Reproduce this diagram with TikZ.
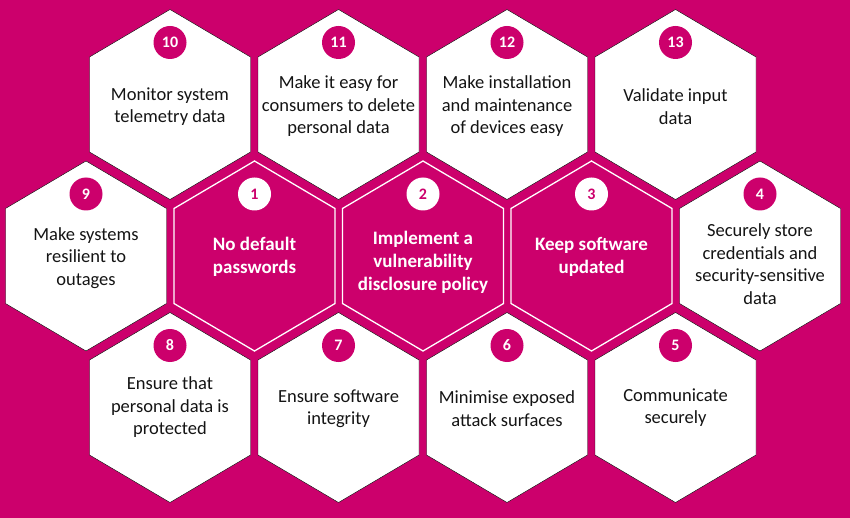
\documentclass[tikz,border=0pt]{standalone}
\usepackage{fontspec}
\setmainfont{Carlito}
\usepackage{xcolor}
\definecolor{btpink}{RGB}{204,0,108}
\definecolor{inkgrey}{RGB}{20,20,20}

\begin{document}
\begin{tikzpicture}[x=1pt,y=-1pt,
 hexwhite/.style={fill=white},
 hexpink/.style={fill=btpink,draw=white,line width=1.3pt},
 numdot/.style={circle,fill=btpink,text=white,minimum size=33pt,inner sep=0pt,
 font=\bfseries\fontsize{16}{16}\selectfont},
 numdotw/.style={numdot,fill=white,text=btpink},
 label/.style={align=center,text=inkgrey,inner sep=0pt,
 font=\fontsize{18.5}{22.5}\selectfont},
 labelw/.style={label,text=white,font=\bfseries\fontsize{19}{23}\selectfont}]
\useasboundingbox (0,0) rectangle (850,518);
\fill[btpink] (0,0) rectangle (850,518);
\foreach \cx/\cy/\num/\dy/\txt in {
 170/104.5/10/2/{Monitor system\\telemetry data},
 338.5/104.5/11/2/{Make it easy for\\consumers to delete\\personal data},
 507/104.5/12/2/{Make installation\\and maintenance\\of devices easy},
 675.5/104.5/13/2/{Validate input\\data},
 86/256/9/2/{Make systems\\resilient to\\outages},
 760/256/4/8/{Securely store\\credentials and\\security-sensitive\\data},
 170/407.5/8/0/{Ensure that\\personal data is\\protected},
 338.5/407.5/7/1/{Ensure software\\integrity},
 507/407.5/6/1/{Minimise exposed\\attack surfaces},
 675.5/407.5/5/0/{Communicate\\securely}}{
 \draw[hexwhite] (\cx,\cy) ++(0,-95) -- ++(80.5,47.5) -- ++(0,95) -- ++(-80.5,47.5)
 -- ++(-80.5,-47.5) -- ++(0,-95) -- cycle;
 \node[numdot] (n\num) at (\cx,\cy-62) {\num};
 \node[label] (t\num) at (\cx,\cy+\dy) {\txt};
}
\foreach \cx/\num/\dy/\txt in {
 254.5/1/1/{No default\\passwords},
 423/2/6/{Implement a\\vulnerability\\disclosure policy},
 591.5/3/1/{Keep software\\updated}}{
 \draw[hexpink] (\cx,256) ++(0,-95) -- ++(80.5,47.5) -- ++(0,95) -- ++(-80.5,47.5)
 -- ++(-80.5,-47.5) -- ++(0,-95) -- cycle;
 \node[numdotw] (n\num) at (\cx,194) {\num};
 \node[labelw] (t\num) at (\cx,256+\dy) {\txt};
}
\end{tikzpicture}
\end{document}
